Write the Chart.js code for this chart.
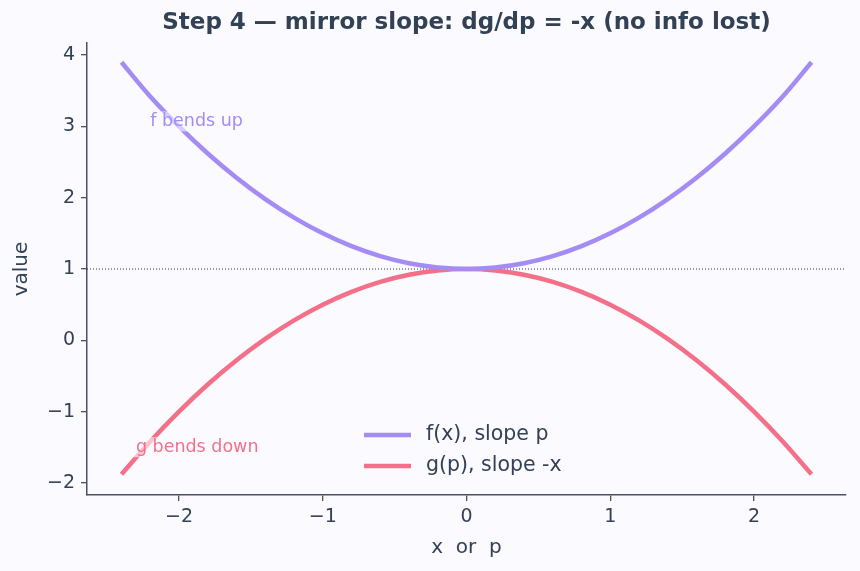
<!DOCTYPE html>
<html>
<head>
<meta charset="utf-8">
<script src="https://cdn.jsdelivr.net/npm/chart.js@4/dist/chart.umd.min.js"></script>
<style>
  html, body { margin: 0; padding: 0; background: #fafaff; }
  #wrap { width: 860px; height: 571px; }
</style>
</head>
<body>
<div id="wrap"><canvas id="chart" width="860" height="571"></canvas></div>
<script>
// x (or p) sample positions
const xs = [-2.4, -2.2, -2.0, -1.8, -1.6, -1.4, -1.2, -1.0, -0.8, -0.6, -0.4, -0.2, 0,
            0.2, 0.4, 0.6, 0.8, 1.0, 1.2, 1.4, 1.6, 1.8, 2.0, 2.2, 2.4];
// f(x)
const fVals = [3.9, 3.42, 3.0, 2.62, 2.28, 1.98, 1.72, 1.5, 1.32, 1.18, 1.08, 1.02, 1.0,
               1.02, 1.08, 1.18, 1.32, 1.5, 1.72, 1.98, 2.28, 2.62, 3.0, 3.42, 3.9];
// g(p)
const gVals = [-1.88, -1.42, -1.0, -0.62, -0.28, 0.02, 0.28, 0.5, 0.68, 0.82, 0.92, 0.98, 1.0,
               0.98, 0.92, 0.82, 0.68, 0.5, 0.28, 0.02, -0.28, -0.62, -1.0, -1.42, -1.88];
const xTicks = [-2, -1, 0, 1, 2];
const yTicks = [-2, -1, 0, 1, 2, 3, 4];
const refLevel = 1;

const seriesNames = ['f(x), slope p', 'g(p), slope -x'];
const notes = [
  { text: 'f bends up', x: -2.2, y: 3.0, color: '#a48cf4' },
  { text: 'g bends down', x: -2.3, y: -1.57, color: '#f47088' }
];

const purple = '#a48cf4';
const pink = '#f47088';
const ink = '#334155';
const axisInk = '#4b5060';
const FONT = '"DejaVu Sans", sans-serif';

const minus = v => String(v).replace('-', '\u2212');

const decorations = {
  id: 'decorations',
  beforeDraw(chart) {
    const { ctx, width, height } = chart;
    ctx.save();
    ctx.fillStyle = '#fafaff';
    ctx.fillRect(0, 0, width, height);
    ctx.restore();
  },
  beforeDatasetsDraw(chart) {
    const { ctx, chartArea, scales } = chart;
    const y = scales.y.getPixelForValue(refLevel);
    ctx.save();
    ctx.strokeStyle = '#333';
    ctx.lineWidth = 1;
    ctx.setLineDash([1, 2]);
    ctx.beginPath();
    ctx.moveTo(chartArea.left, y);
    ctx.lineTo(chartArea.right, y);
    ctx.stroke();
    ctx.restore();
  },
  afterDraw(chart) {
    const { ctx, chartArea, scales } = chart;
    const cx = (chartArea.left + chartArea.right) / 2;
    ctx.save();
    // title
    ctx.fillStyle = ink;
    ctx.font = 'bold 23px ' + FONT;
    ctx.textAlign = 'center';
    ctx.textBaseline = 'middle';
    ctx.fillText('Step 4 \u2014 mirror slope: dg/dp = -x (no info lost)', cx, 23);
    // axis titles
    ctx.font = '20px ' + FONT;
    ctx.fillText('x  or  p', cx, 548);
    ctx.save();
    ctx.translate(22, (chartArea.top + chartArea.bottom) / 2);
    ctx.rotate(-Math.PI / 2);
    ctx.fillText('value', 0, 0);
    ctx.restore();
    // notes
    ctx.font = '17.5px ' + FONT;
    ctx.textAlign = 'left';
    ctx.textBaseline = 'alphabetic';
    notes.forEach(n => {
      const px = scales.x.getPixelForValue(n.x);
      const py = scales.y.getPixelForValue(n.y);
      const w = ctx.measureText(n.text).width;
      ctx.fillStyle = 'rgba(250,250,255,0.6)';
      ctx.fillRect(px - 2, py - 15, w + 4, 20);
      ctx.fillStyle = n.color;
      ctx.fillText(n.text, px, py);
    });
    // legend
    const colors = [purple, pink];
    ctx.font = '20.5px ' + FONT;
    ctx.textBaseline = 'middle';
    seriesNames.forEach((name, i) => {
      const ly = 435 + i * 31;
      ctx.strokeStyle = colors[i];
      ctx.lineWidth = 4.5;
      ctx.beginPath();
      ctx.moveTo(364, ly);
      ctx.lineTo(411, ly);
      ctx.stroke();
      ctx.fillStyle = ink;
      ctx.fillText(name, 426, ly);
    });
    ctx.restore();
  }
};

new Chart(document.getElementById('chart'), {
  type: 'line',
  data: {
    labels: xs,
    datasets: [
      {
        label: seriesNames[0],
        data: xs.map((x, i) => ({ x: x, y: fVals[i] })),
        borderColor: purple,
        borderWidth: 4.5,
        pointRadius: 0,
        cubicInterpolationMode: 'monotone',
        fill: false
      },
      {
        label: seriesNames[1],
        data: xs.map((x, i) => ({ x: x, y: gVals[i] })),
        borderColor: pink,
        borderWidth: 4.5,
        pointRadius: 0,
        cubicInterpolationMode: 'monotone',
        fill: false
      }
    ]
  },
  options: {
    responsive: false,
    animation: false,
    layout: { padding: { top: 43, right: 14, left: 0, bottom: 0 } },
    plugins: {
      legend: { display: false },
      title: { display: false },
      tooltip: { enabled: false }
    },
    scales: {
      x: {
        type: 'linear',
        min: -2.64,
        max: 2.64,
        afterBuildTicks: axis => { axis.ticks = xTicks.map(v => ({ value: v })); },
        afterFit: axis => { axis.height = 76; },
        grid: { drawOnChartArea: false, drawTicks: true, tickLength: 6, color: axisInk, lineWidth: 1.3 },
        border: { display: true, color: axisInk, width: 1.5 },
        ticks: {
          color: ink,
          font: { family: FONT, size: 19 },
          padding: 5,
          maxRotation: 0,
          callback: v => minus(v)
        }
      },
      y: {
        type: 'linear',
        min: -2.17,
        max: 4.17,
        afterBuildTicks: axis => { axis.ticks = yTicks.map(v => ({ value: v })); },
        afterFit: axis => { axis.width = 87; },
        grid: { drawOnChartArea: false, drawTicks: true, tickLength: 6, color: axisInk, lineWidth: 1.3 },
        border: { display: true, color: axisInk, width: 1.5 },
        ticks: {
          color: ink,
          font: { family: FONT, size: 19 },
          padding: 6,
          callback: v => minus(v)
        }
      }
    }
  },
  plugins: [decorations]
});
</script>
</body>
</html>
